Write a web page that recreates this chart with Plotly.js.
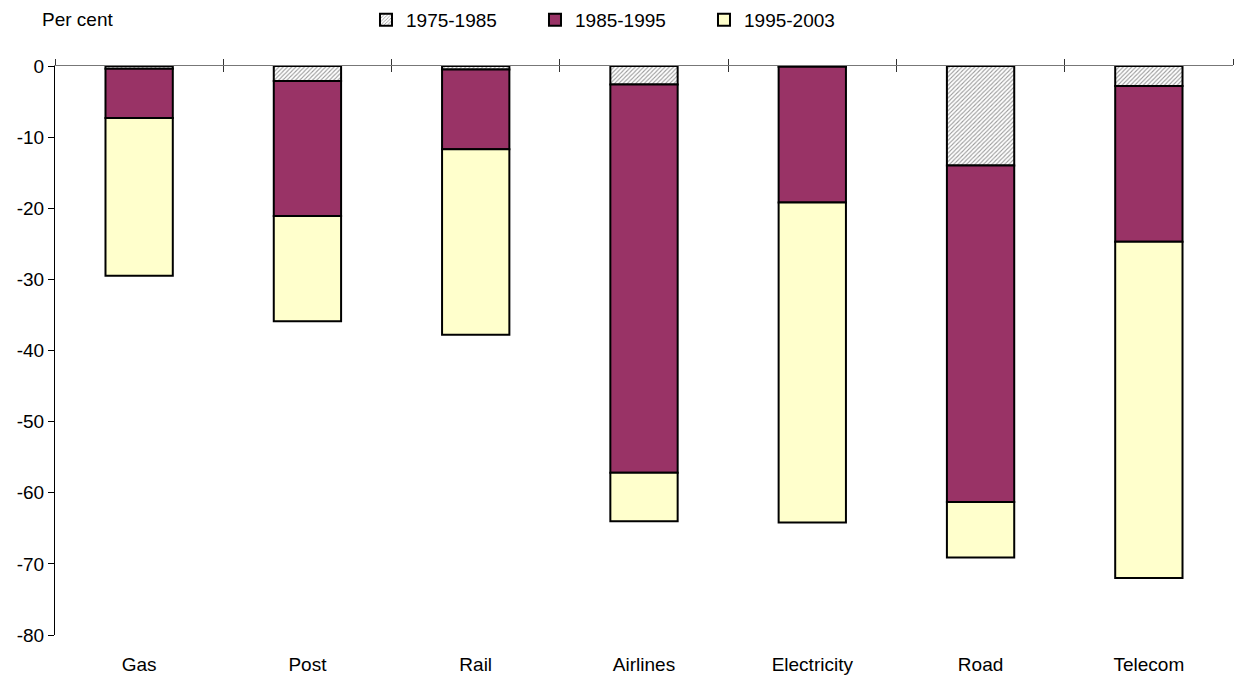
<!DOCTYPE html>
<html>
<head>
<meta charset="utf-8">
<script src="https://cdn.plot.ly/plotly-3.0.1.min.js"></script>
<style>html,body{margin:0;padding:0;background:#fff;}#chart{width:1237px;height:678px;}</style>
</head>
<body>
<div id="chart"></div>
<script>
const categories = ["Gas", "Post", "Rail", "Airlines", "Electricity", "Road", "Telecom"];
const p1975_1985 = [-0.4, -2.1, -0.5, -2.6, -0.1, -14.0, -2.8];
const p1985_1995 = [-6.9, -19.0, -11.2, -54.6, -19.1, -47.3, -21.9];
const p1995_2003 = [-22.2, -14.8, -26.1, -6.8, -45.0, -7.8, -47.3];
const yTicks = [0, -10, -20, -30, -40, -50, -60, -70, -80];
const boundaries = [-0.5, 0.5, 1.5, 2.5, 3.5, 4.5, 5.5, 6.5];

const FONT = "Liberation Sans, Arial, sans-serif";
const FS = 19;
const line = {color: "#000", width: 2};

const traces = [
  {type: "bar", name: "1975-1985", x: categories, y: p1975_1985, width: 0.4,
   marker: {color: "#ffffff", line: line,
            pattern: {shape: "/", fgcolor: "#9a9a9a", bgcolor: "#ffffff", size: 3, solidity: 0.35}}},
  {type: "bar", name: "1985-1995", x: categories, y: p1985_1995, width: 0.4,
   marker: {color: "#993366", line: line}},
  {type: "bar", name: "1995-2003", x: categories, y: p1995_2003, width: 0.4,
   marker: {color: "#ffffcc", line: line}},
  // invisible helpers for the boundary-tick axes
  {type: "scatter", x: [boundaries[0], boundaries[boundaries.length-1]], y: [0, 0], xaxis: "x2", mode: "none", showlegend: false, hoverinfo: "skip"},
  {type: "scatter", x: [boundaries[0], boundaries[boundaries.length-1]], y: [0, 0], xaxis: "x3", mode: "none", showlegend: false, hoverinfo: "skip"}
];

const layout = {
  width: 1237, height: 678,
  margin: {l: 55, r: 4, t: 66, b: 43, autoexpand: false},
  paper_bgcolor: "#fff", plot_bgcolor: "#fff",
  font: {family: FONT, size: FS, color: "#000"},
  barmode: "relative",
  showlegend: true,
  legend: {orientation: "h", x: 0.264, xanchor: "left", y: 1.081, yanchor: "middle",
           font: {family: FONT, size: FS, color: "#000"},
           itemwidth: 30, entrywidth: 124, entrywidthmode: "pixels", traceorder: "normal",
           bgcolor: "rgba(0,0,0,0)", tracegroupgap: 0},
  xaxis: {type: "category", categoryorder: "array", categoryarray: categories,
          range: [-0.5, 6.5], showline: false, ticks: "", showgrid: false, zeroline: false,
          tickfont: {family: FONT, size: FS, color: "#000"}, ticklabelstandoff: 16, fixedrange: true},
  xaxis2: {overlaying: "x", side: "top", anchor: "y", type: "linear", range: [-0.5, 6.5],
           tickmode: "array", tickvals: boundaries, ticks: "outside", ticklen: 6, tickwidth: 1, tickcolor: "#333",
           showticklabels: false, showline: true, linecolor: "#777", linewidth: 1.3, showgrid: false, zeroline: false},
  xaxis3: {overlaying: "x", side: "top", anchor: "y", type: "linear", range: [-0.5, 6.5],
           tickmode: "array", tickvals: boundaries, ticks: "inside", ticklen: 6, tickwidth: 1, tickcolor: "#333",
           showticklabels: false, showline: false, showgrid: false, zeroline: false},
  yaxis: {range: [-80, 0], tickmode: "array", tickvals: yTicks, ticktext: yTicks.map(String),
          ticks: "outside", ticklen: 6, tickwidth: 1, tickcolor: "#000",
          showline: true, linecolor: "#000", linewidth: 1, showgrid: false, zeroline: false,
          tickfont: {family: FONT, size: FS, color: "#000"}, fixedrange: true},
  annotations: [
    {text: "Per cent", xref: "paper", yref: "paper", x: -0.0125, y: 1.082, xanchor: "left", yanchor: "middle",
     showarrow: false, font: {family: FONT, size: FS, color: "#000"}}
  ]
};

Plotly.newPlot("chart", traces, layout, {displayModeBar: false, staticPlot: true});
</script>
</body>
</html>
